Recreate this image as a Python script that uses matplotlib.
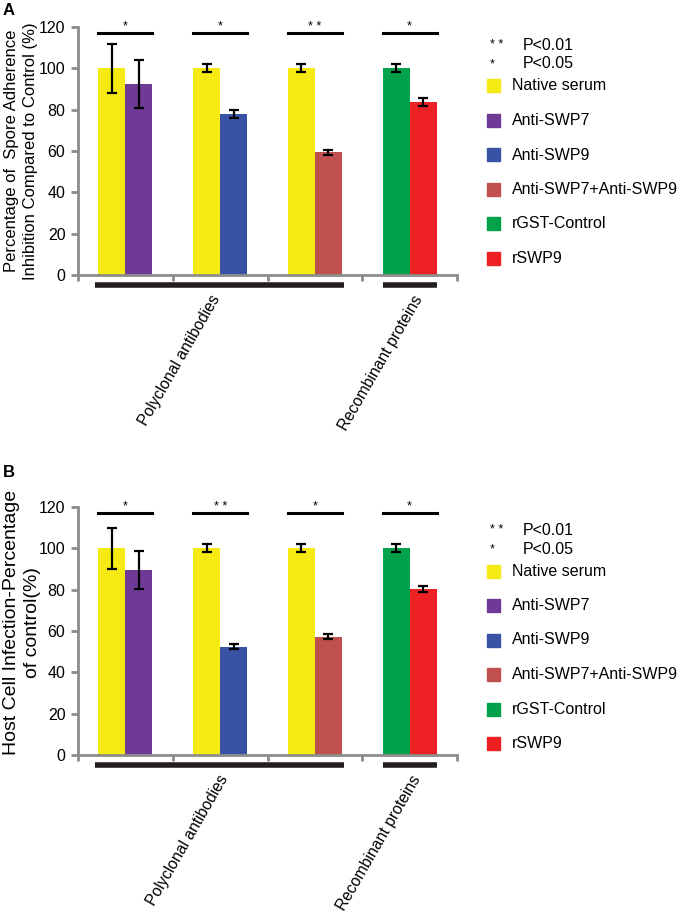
import matplotlib
matplotlib.use("Agg")
import matplotlib.pyplot as plt
from matplotlib.patches import Rectangle
import numpy as np

plt.rcParams['font.family'] = ['Liberation Sans', 'DejaVu Sans']

# data
groups = ['Polyclonal 1', 'Polyclonal 2', 'Polyclonal 3', 'Recombinant']
a_left = [100, 100, 100, 100]
a_left_err = [12, 2, 2, 2]
a_right = [92.5, 78, 59.3, 83.7]
a_right_err = [11.5, 1.8, 1.2, 1.8]
a_sig = ['*', '*', '* *', '*']

b_left = [100, 100, 100, 100]
b_left_err = [10, 2, 2, 2]
b_right = [89.5, 52.3, 57.3, 80.5]
b_right_err = [9, 1.2, 1.2, 1.5]
b_sig = ['*', '* *', '*', '*']

yellow = '#F5EA14'
purple = '#6F3996'
blue = '#3953A4'
brown = '#C0504D'
green = '#00A14B'
red = '#ED2024'
left_colors = [yellow, yellow, yellow, green]
right_colors = [purple, blue, brown, red]

legend_labels = ['Native serum', 'Anti-SWP7', 'Anti-SWP9', 'Anti-SWP7+Anti-SWP9', 'rGST-Control', 'rSWP9']
legend_colors = [yellow, purple, blue, brown, green, red]
category_labels = ['Polyclonal antibodies', 'Recombinant proteins']

W, H = 680, 913
fig = plt.figure(figsize=(6.8, 9.13), dpi=100)

grey = '#8c8c8c'
bw = 0.285


def draw_panel(ax, left, left_err, right, right_err, sig, ylabel, ylab_size, ylab_pos, lab_x):
    x = np.arange(len(groups)) + 0.5
    ax.bar(x - bw / 2, left, bw, color=left_colors)
    ax.bar(x + bw / 2, right, bw, color=right_colors)
    ax.errorbar(x - bw / 2, left, yerr=left_err, fmt='none', ecolor='black',
                elinewidth=1.6, capsize=3.5, capthick=1.6)
    ax.errorbar(x + bw / 2, right, yerr=right_err, fmt='none', ecolor='black',
                elinewidth=1.6, capsize=3.5, capthick=1.6)
    # significance brackets
    for xi, s in zip(x, sig):
        ax.plot([xi - bw, xi + bw], [117, 117], color='black', lw=2.2, clip_on=False)
        ax.text(xi, 117.3, s, ha='center', va='bottom', fontsize=9)
    ax.set_xlim(0, 4)
    ax.set_ylim(0, 120)
    ax.set_yticks(range(0, 121, 20))
    ax.set_xticks(range(0, 5))
    ax.set_xticklabels([])
    for sp in ['top', 'right']:
        ax.spines[sp].set_visible(False)
    for sp in ['left', 'bottom']:
        ax.spines[sp].set_color(grey)
        ax.spines[sp].set_linewidth(2)
    ax.tick_params(axis='y', colors=grey, labelcolor='black', labelsize=11.5,
                   length=5, width=2, direction='out', pad=4)
    ax.tick_params(axis='x', colors=grey, length=4, width=2, direction='out')
    ax.set_ylabel(ylabel, fontsize=ylab_size, linespacing=1.3)
    ax.yaxis.set_label_coords(*ylab_pos)
    # group bars under the axis
    trans = ax.get_xaxis_transform()
    ax.plot([x[0] - bw - 0.04, x[2] + bw + 0.02], [-0.04, -0.04], color='#231f20',
            lw=4, transform=trans, clip_on=False, solid_capstyle='butt')
    ax.plot([x[3] - bw, x[3] + bw], [-0.04, -0.04], color='#231f20',
            lw=4, transform=trans, clip_on=False, solid_capstyle='butt')
    ax.text(lab_x[0], -0.07, category_labels[0], rotation=60, ha='right', va='top',
            fontsize=11.3, transform=trans)
    ax.text(lab_x[1], -0.07, category_labels[1], rotation=60, ha='right', va='top',
            fontsize=11.3, transform=trans)


def draw_legend(top_px):
    xs = 487 / W
    sq = 13
    fig.text(490 / W, 1 - (top_px) / H, '* *', fontsize=9, va='center', ha='left')
    fig.text(523 / W, 1 - (top_px) / H, 'P<0.01', fontsize=11.5, va='center', ha='left')
    fig.text(490 / W, 1 - (top_px + 19) / H, '*', fontsize=9, va='center', ha='left')
    fig.text(523 / W, 1 - (top_px + 19) / H, 'P<0.05', fontsize=11.5, va='center', ha='left')
    for i, (lab, col) in enumerate(zip(legend_labels, legend_colors)):
        yc = top_px + 41 + 34.5 * i
        fig.add_artist(Rectangle((xs, 1 - (yc + sq / 2) / H), sq / W, sq / H,
                                 color=col, transform=fig.transFigure))
        fig.text(512 / W, 1 - yc / H, lab, fontsize=11.5, va='center', ha='left')


ax_a = fig.add_axes([78 / W, 1 - 275 / H, 379 / W, 248 / H])
draw_panel(ax_a, a_left, a_left_err, a_right, a_right_err, a_sig,
           'Percentage of  Spore Adherence\nInhibition Compared to Control (%)',
           12, ((38 - 78) / 379, 0.5), (1.53, 3.67))
ax_b = fig.add_axes([78 / W, 1 - 755 / H, 379 / W, 248 / H])
draw_panel(ax_b, b_left, b_left_err, b_right, b_right_err, b_sig,
           'Host Cell Infection-Percentage\nof control(%)',
           14, ((41 - 78) / 379, 0.535), (1.62, 3.65))

draw_legend(45)
draw_legend(530)

fig.text(3 / W, 1 - 3 / H, 'A', fontsize=12, fontweight='bold', va='top')
fig.text(3 / W, 1 - 465 / H, 'B', fontsize=12, fontweight='bold', va='top')

fig.savefig('out.png', dpi=100)
